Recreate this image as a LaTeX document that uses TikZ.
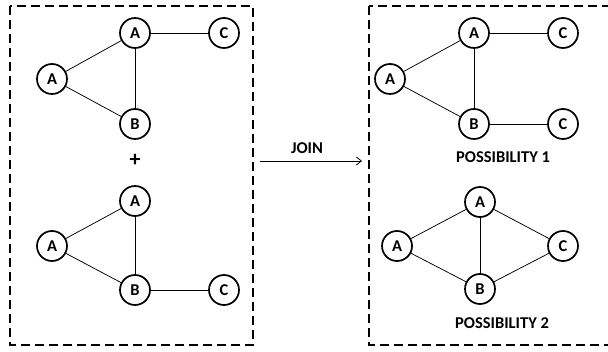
\documentclass[tikz,border=0pt]{standalone}
\usepackage{fontspec}
\setmainfont{Carlito}
\usetikzlibrary{arrows.meta}
\begin{document}
\begin{tikzpicture}[x=1pt,y=-1pt,
  vtx/.style={circle,draw,line width=1.7pt,minimum size=30pt,inner sep=0pt,font=\fontsize{16.5}{18}\selectfont\bfseries},
  edge/.style={line width=0.75pt},
  frame/.style={line width=2pt,dash pattern=on 9pt off 5pt},
  lbl/.style={font=\fontsize{16.5}{18}\selectfont\bfseries,inner sep=0pt}]
\useasboundingbox (0,0) rectangle (608,352);
\clip (0,0) rectangle (608,352);
\draw[frame] (10,6) rectangle (253,345);
\draw[frame] (369,6) rectangle (620,345);
% left top
\node[vtx] (la1) at (135,33) {A};
\node[vtx] (lc1) at (224,33) {C};
\node[vtx] (ll1) at (52,79) {A};
\node[vtx] (lb1) at (135,124) {B};
\draw[edge] (ll1) -- (la1);
\draw[edge] (ll1) -- (lb1);
\draw[edge] (la1) -- (lb1);
\draw[edge] (la1) -- (lc1);
\node[font=\fontsize{22}{24}\selectfont\bfseries,inner sep=0pt] (plus) at (135,160) {+};
% left bottom
\node[vtx] (la2) at (135,201) {A};
\node[vtx] (ll2) at (52,246) {A};
\node[vtx] (lb2) at (135,290) {B};
\node[vtx] (lc2) at (224,290) {C};
\draw[edge] (ll2) -- (la2);
\draw[edge] (ll2) -- (lb2);
\draw[edge] (la2) -- (lb2);
\draw[edge] (lb2) -- (lc2);
% join arrow
\coordinate (js) at (260,161);
\coordinate (je) at (362,161);
\draw[edge,-{Straight Barb[length=5pt,width=8pt]}] (js) -- (je);
\node[lbl] (join) at (307,148) {JOIN};
% right top
\node[vtx] (ra1) at (474,33) {A};
\node[vtx] (rc1) at (563,33) {C};
\node[vtx] (rl1) at (390,79) {A};
\node[vtx] (rb1) at (474,124) {B};
\node[vtx] (rc1b) at (563,124) {C};
\draw[edge] (rl1) -- (ra1);
\draw[edge] (rl1) -- (rb1);
\draw[edge] (ra1) -- (rb1);
\draw[edge] (ra1) -- (rc1);
\draw[edge] (rb1) -- (rc1b);
\node[lbl] (p1) at (503,157) {POSSIBILITY 1};
% right bottom
\node[vtx] (ra2) at (480,202) {A};
\node[vtx] (rl2) at (397,246) {A};
\node[vtx] (rb2) at (480,289) {B};
\node[vtx] (rc2) at (563,246) {C};
\draw[edge] (rl2) -- (ra2);
\draw[edge] (rl2) -- (rb2);
\draw[edge] (ra2) -- (rb2);
\draw[edge] (ra2) -- (rc2);
\draw[edge] (rb2) -- (rc2);
\node[lbl] (p2) at (502,323) {POSSIBILITY 2};
\end{tikzpicture}
\end{document}
